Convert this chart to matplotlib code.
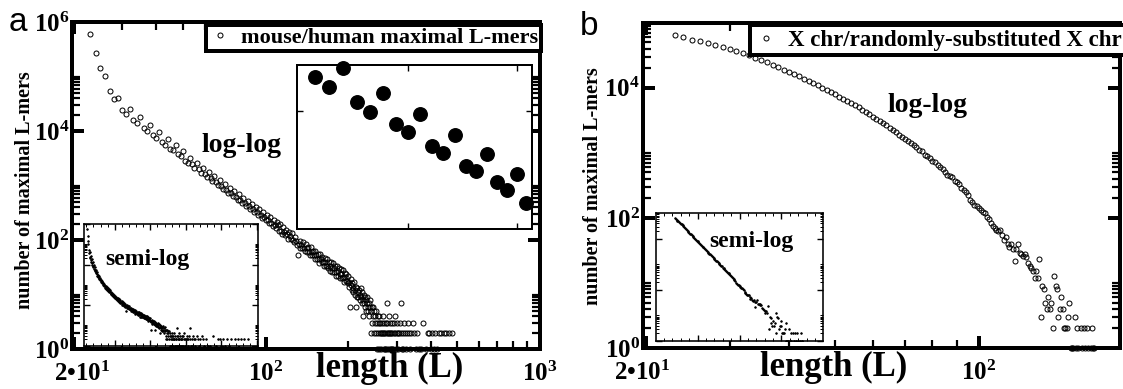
import matplotlib
matplotlib.use('Agg')
import matplotlib.pyplot as plt
from matplotlib.ticker import FixedLocator, FixedFormatter, NullFormatter, NullLocator
from matplotlib.transforms import ScaledTranslation
from matplotlib.lines import Line2D

plt.rcParams['font.family'] = ['Liberation Serif', 'DejaVu Serif']
plt.rcParams['font.weight'] = 'bold'
plt.rcParams['mathtext.fontset'] = 'custom'
plt.rcParams['mathtext.rm'] = 'Liberation Serif:bold'
plt.rcParams['mathtext.bf'] = 'Liberation Serif:bold'
plt.rcParams['mathtext.it'] = 'Liberation Serif:bold'

# ---------------- data: panel a (mouse/human maximal L-mers) ----------------
L_a_start = 23
counts_a = [590000, 265000, 145000, 102000, 54000, 39000, 41000, 24500, 20400, 25000,   # 23-32
            15850, 13840, 17760, 11290, 9870, 12760, 8360, 7470, 9570, 6220,           # 33-42
            5610, 7200, 4740, 4410, 5540, 3820, 3420, 4250, 2850,                      # 43-51
            2570, 3160, 2440, 2090, 2570, 2000, 1710, 2120, 1660,                      # 52-60
            1420, 1760, 1380, 1190, 1480, 1160, 1005, 1250, 986, 853,                  # 61-70
            1070, 843, 731, 916, 724, 630, 790, 627, 545, 687,                         # 71-80
            546, 475, 600, 476, 416, 526, 419, 366, 463, 369,                          # 81-90
            324, 409, 327, 286, 363, 290, 255, 324, 259, 228,                          # 91-100
            290, 232, 204, 260, 208, 184, 234, 188, 166, 212,                          # 101-110
            191, 144, 196, 148, 128, 175, 141, 122, 152, 127,                          # 111-120
            103, 141, 116, 103, 132, 102, 90, 115, 97, 81,                             # 121-130
            52, 86, 71, 95, 82, 71, 90, 71, 63, 85,                                    # 131-140
            70, 60, 75, 61, 53, 74, 60, 52, 64, 53,                                    # 141-150
            45, 63, 52, 44, 56, 45, 38, 55, 45, 39,                                    # 151-160
            49, 40, 34, 47, 39, 33, 45, 34, 31, 40,                                    # 161-170
            34, 27, 39, 31, 26, 38, 30, 26, 33, 26,                                    # 171-180
            22, 33, 27, 22, 30, 24, 20, 29, 24, 20,                                    # 181-190
            28, 21, 17, 25, 21, 18, 24, 18, 16, 22]                                    # 191-200
L_a_tail = [201, 202, 203, 204, 205, 206, 207, 208, 209, 210,
            211, 212, 213, 214, 215, 216, 217, 218, 219, 220,
            221, 222, 223, 224, 225, 226, 227, 228, 229, 230,
            231, 232, 233, 234, 235, 236, 237, 238, 239, 240,
            241, 242, 243, 244, 245, 246, 247, 248, 249, 250,
            251, 252, 253, 254, 255, 256, 257, 258, 259, 260,
            261, 262, 263, 264, 265, 266, 267, 268, 269, 270,
            271, 272, 273, 274, 275, 276, 277, 278, 279, 280,
            281, 282, 283, 284, 285, 286, 287, 288, 289, 290,
            292, 293, 294, 296, 297, 298, 300, 302, 303, 305,
            307, 309, 311, 312, 314, 316, 318, 320, 322, 325,
            327, 330, 333, 336, 340, 345, 348, 352, 356, 362,
            368, 376, 385, 391, 395, 400, 404, 410, 415, 420,
            428, 437, 446, 455, 465, 476]
N_a_tail = [17, 14, 6, 19, 15, 12, 16, 13, 11, 17,
            12, 10, 14, 6, 9, 13, 11, 9, 12, 10,
            8, 13, 9, 7, 11, 8, 4, 10, 7, 9,
            6, 8, 5, 7, 9, 6, 5, 7, 4, 6,
            8, 5, 2, 6, 3, 4, 6, 2, 5, 3,
            4, 2, 5, 1, 3, 4, 2, 3, 1, 4,
            2, 3, 2, 1, 3, 2, 4, 2, 1, 3,
            2, 1, 2, 3, 1, 7, 2, 3, 1, 2,
            4, 2, 1, 3, 2, 1, 2, 3, 1, 2,
            1, 3, 2, 4, 2, 1, 2, 3, 2, 1,
            2, 3, 7, 2, 1, 2, 1, 3, 2, 1,
            2, 3, 2, 1, 2, 3, 2, 1, 2, 1,
            1, 3, 1, 2, 2, 1, 2, 1, 2, 1,
            2, 2, 2, 2, 2, 2]
# enlarged window (inset, log-log) shows L = 33..51 of the same series
inset_L_first, inset_L_last = 33, 51

# ---------------- data: panel b (X chr / randomly-substituted X chr) --------
L_b_start = 23
counts_b = [64600, 59600, 55000, 51500, 48300, 45300, 42500, 39800, 36800, 34000,   # 23-32
            31500, 29100, 26900, 24700, 22600, 20700, 19000, 17400, 16100, 14900,   # 33-42
            13700, 12700, 11700, 10900, 10000, 9300, 8600, 7900, 7300, 6800,        # 43-52
            6300, 5800, 5400, 5000, 4600, 4250, 3950, 3600, 3350, 3100,             # 53-62
            2870, 2650, 2450, 2260, 2080, 1910, 1760, 1620, 1510, 1400,             # 63-72
            1300, 1210, 1120, 1060, 940, 890, 830, 745, 710, 640,                   # 73-82
            610, 572, 505, 462, 445, 420, 370, 350, 330, 290,                       # 83-92
            265, 249, 225]                                                          # 93-95
L_b_tail = [96, 97, 98, 99, 100, 101, 102, 103, 104, 105,
            106, 107, 108, 109, 110, 111, 112, 113, 114, 115,
            116, 117, 118, 119, 120, 121, 122, 123, 124, 125,
            126, 127, 128, 129, 130, 131, 132, 133, 134, 135,
            136, 137, 138, 139, 140, 141, 142, 143, 144, 145,
            146, 147, 148, 149, 150, 151, 152, 153, 154, 155,
            156, 157, 158, 159, 160, 161, 162, 164, 165, 166,
            167, 169, 170, 172, 173, 174, 175]
N_b_tail = [190, 175, 160, 152, 140, 133, 122, 118, 105, 96,
            83, 76, 70, 66, 62, 64, 55, 46, 50, 39,
            36, 40, 33, 22, 33, 40, 29, 28, 26, 28,
            25, 20, 18, 17, 15, 12, 15, 12, 23, 3,
            9, 8, 5, 4, 6, 4, 5, 2, 13, 9,
            8, 3, 4, 6, 4, 2, 2, 2, 3, 5,
            1, 1, 1, 3, 1, 2, 1, 2, 1, 2,
            1, 2, 1, 1, 2, 1, 1]

legend_a = 'mouse/human maximal L-mers'
legend_b = 'X chr/randomly-substituted X chr'
ylabel = 'number of maximal L-mers'
xlabel = 'length (L)'
ytick_vals_a = [1, 1e2, 1e4, 1e6]
ytick_labs_a = [r'$\mathbf{10^{0}}$', r'$\mathbf{10^{2}}$', r'$\mathbf{10^{4}}$', r'$\mathbf{10^{6}}$']
ytick_vals_b = [1, 1e2, 1e4]
ytick_labs_b = [r'$\mathbf{10^{0}}$', r'$\mathbf{10^{2}}$', r'$\mathbf{10^{4}}$']
xtick_vals_a = [20, 100, 1000]
xtick_labs_a = [r'$\mathbf{2•10^{1}}$', r'$\mathbf{10^{2}}$', r'$\mathbf{10^{3}}$']
xtick_vals_b = [20, 100]
xtick_labs_b = [r'$\mathbf{2•10^{1}}$', r'$\mathbf{10^{2}}$']

# assemble series
L_a = list(range(L_a_start, L_a_start + len(counts_a))) + L_a_tail
N_a = counts_a + N_a_tail
L_b = list(range(L_b_start, L_b_start + len(counts_b))) + L_b_tail
N_b = counts_b + N_b_tail
i0 = inset_L_first - L_a_start
i1 = inset_L_last - L_a_start + 1
L_zoom = L_a[i0:i1]
N_zoom = N_a[i0:i1]

# ---------------- figure ----------------
W, H, DPI = 1123, 389, 100
fig = plt.figure(figsize=(W / DPI, H / DPI), dpi=DPI)
PX = 72.0 / DPI  # points per pixel


def rect(x0, y0, x1, y1):
    return [x0 / W, 1 - y1 / H, (x1 - x0) / W, (y1 - y0) / H]


def minor_log(decades):
    out = []
    for d in decades:
        for k in range(2, 11):
            out.append(k * 10.0 ** d)
    return out


def px_text(ax, x, y, s, **kw):
    # place text at pixel position measured from the top-left corner
    return ax.text(x / W, 1 - y / H, s, transform=fig.transFigure, **kw)


def style_main(ax):
    for s in ax.spines.values():
        s.set_linewidth(4 * PX)
    ax.tick_params(which='both', direction='in', top=True, right=True,
                   labeltop=False, labelright=False)
    ax.tick_params(which='major', length=12 * PX, width=4 * PX, labelsize=18)
    ax.tick_params(which='minor', length=8 * PX, width=2.2 * PX)
    ax.tick_params(axis='x', which='major', pad=9)
    ax.tick_params(axis='y', which='major', pad=2)


def style_inset(ax, lw=1.6):
    for s in ax.spines.values():
        s.set_linewidth(lw * PX)
    ax.tick_params(which='both', direction='in', top=True, right=True,
                   labelbottom=False, labelleft=False)
    ax.tick_params(which='major', length=6 * PX, width=1.4 * PX)
    ax.tick_params(which='minor', length=3 * PX, width=1.0 * PX)


# ---- panel a main ----
ax_a = fig.add_axes(rect(72, 22, 540, 349))
ax_a.set_xscale('log')
ax_a.set_yscale('log')
ax_a.plot(L_a, N_a, linestyle='none', marker='o', markersize=5 * PX,
          markerfacecolor='none', markeredgecolor='black', markeredgewidth=1.0 * PX,
          clip_on=False, zorder=1)
ax_a.set_xlim(19.7, 1000)
ax_a.set_ylim(1, 1e6)
ax_a.xaxis.set_major_locator(FixedLocator(xtick_vals_a))
ax_a.xaxis.set_major_formatter(FixedFormatter(xtick_labs_a))
ax_a.xaxis.set_minor_locator(FixedLocator([30, 40, 50, 60, 70, 80, 90,
                                           200, 300, 400, 500, 600, 700, 800, 900]))
ax_a.xaxis.set_minor_formatter(NullFormatter())
ax_a.yaxis.set_major_locator(FixedLocator(ytick_vals_a))
ax_a.yaxis.set_major_formatter(FixedFormatter(ytick_labs_a))
ax_a.yaxis.set_minor_locator(FixedLocator(minor_log([0, 2, 4])))
ax_a.yaxis.set_minor_formatter(NullFormatter())
style_main(ax_a)
lab = ax_a.get_xticklabels()[0]
lab.set_transform(lab.get_transform() + ScaledTranslation(8 / DPI, 0, fig.dpi_scale_trans))

h_a = Line2D([], [], linestyle='none', marker='o', markersize=5 * PX,
             markerfacecolor='none', markeredgecolor='black', markeredgewidth=1.0 * PX)
leg_a = ax_a.legend([h_a], [legend_a], loc='upper left',
                    bbox_to_anchor=(206 / W, 1 - 25 / H), bbox_transform=fig.transFigure,
                    borderaxespad=0, borderpad=0.12, handlelength=1.0, handletextpad=0.45,
                    fancybox=False, framealpha=1, edgecolor='black',
                    prop={'family': 'Liberation Serif', 'weight': 'bold', 'size': 16})
leg_a.get_frame().set_linewidth(4 * PX)
px_text(ax_a, 242, 145, 'log-log', fontsize=20, ha='center', va='center')

# ---- panel a inset: enlarged log-log window ----
ax_z = fig.add_axes(rect(296.7, 65, 532.1, 229.3))
ax_z.set_xscale('log')
ax_z.set_yscale('log')
ax_z.plot(L_zoom, N_zoom, linestyle='none', marker='o', markersize=13.5 * PX,
          markerfacecolor='black', markeredgecolor='black', clip_on=False)
ax_z.set_xlim(31.8, 51.6)
ax_z.set_ylim(2005, 18580)
ax_z.xaxis.set_major_locator(FixedLocator([40, 50]))
ax_z.xaxis.set_minor_locator(NullLocator())
ax_z.yaxis.set_major_locator(FixedLocator([1e4]))
ax_z.yaxis.set_minor_locator(NullLocator())
style_inset(ax_z, lw=2.0)

# ---- panel a inset: semi-log ----
ax_sa = fig.add_axes(rect(83.5, 224, 258, 345.5))
ax_sa.set_yscale('log')
ax_sa.plot(L_a, N_a, linestyle='none', marker='o', markersize=1.6 * PX,
           markerfacecolor='black', markeredgecolor='black', markeredgewidth=0.6)
ax_sa.set_xlim(12, 503)
ax_sa.set_ylim(1, 1e6)
ax_sa.xaxis.set_major_locator(FixedLocator([100, 200, 300, 400, 500]))
ax_sa.xaxis.set_minor_locator(FixedLocator(list(range(20, 501, 20))))
ax_sa.yaxis.set_major_locator(FixedLocator(ytick_vals_a))
ax_sa.yaxis.set_minor_locator(FixedLocator(minor_log([0, 2, 4])))
ax_sa.yaxis.set_minor_formatter(NullFormatter())
ax_sa.xaxis.set_minor_formatter(NullFormatter())
style_inset(ax_sa)
px_text(ax_sa, 147.5, 260, 'semi-log', fontsize=17, ha='center', va='center')

# ---- panel b main ----
ax_b = fig.add_axes(rect(642.5, 22.7, 1120, 348))
ax_b.set_xscale('log')
ax_b.set_yscale('log')
ax_b.plot(L_b, N_b, linestyle='none', marker='o', markersize=5 * PX,
          markerfacecolor='none', markeredgecolor='black', markeredgewidth=1.0 * PX,
          clip_on=False, zorder=1)
ax_b.set_xlim(19.7, 198)
ax_b.set_ylim(1, 1e5)
ax_b.xaxis.set_major_locator(FixedLocator(xtick_vals_b))
ax_b.xaxis.set_major_formatter(FixedFormatter(xtick_labs_b))
ax_b.xaxis.set_minor_locator(FixedLocator([30, 40, 50, 60, 70, 80, 90]))
ax_b.xaxis.set_minor_formatter(NullFormatter())
ax_b.yaxis.set_major_locator(FixedLocator(ytick_vals_b))
ax_b.yaxis.set_major_formatter(FixedFormatter(ytick_labs_b))
ax_b.yaxis.set_minor_locator(FixedLocator(minor_log([0, 2, 4])))
ax_b.yaxis.set_minor_formatter(NullFormatter())
style_main(ax_b)
lab = ax_b.get_xticklabels()[0]
lab.set_transform(lab.get_transform() + ScaledTranslation(-3 / DPI, 0, fig.dpi_scale_trans))

leg_b = ax_b.legend([h_a], [legend_b], loc='upper left',
                    bbox_to_anchor=(750 / W, 1 - 25 / H), bbox_transform=fig.transFigure,
                    borderaxespad=0, borderpad=0.2, handlelength=1.0, handletextpad=0.45,
                    fancybox=False, framealpha=1, edgecolor='black',
                    prop={'family': 'Liberation Serif', 'weight': 'bold', 'size': 16.5})
leg_b.get_frame().set_linewidth(4 * PX)
px_text(ax_b, 927, 105, 'log-log', fontsize=20, ha='center', va='center')

# ---- panel b inset: semi-log ----
ax_sb = fig.add_axes(rect(655.7, 213.3, 823.3, 341))
ax_sb.set_yscale('log')
ax_sb.plot(L_b, N_b, linestyle='none', marker='o', markersize=1.6 * PX,
           markerfacecolor='black', markeredgecolor='black', markeredgewidth=0.6)
ax_sb.set_xlim(0, 200)
ax_sb.set_ylim(1, 1e5)
ax_sb.xaxis.set_major_locator(FixedLocator([50, 100, 150]))
ax_sb.xaxis.set_minor_locator(FixedLocator(list(range(10, 200, 10))))
ax_sb.yaxis.set_major_locator(FixedLocator(ytick_vals_b))
ax_sb.yaxis.set_minor_locator(FixedLocator(minor_log([0, 2, 4])))
ax_sb.yaxis.set_minor_formatter(NullFormatter())
ax_sb.xaxis.set_minor_formatter(NullFormatter())
style_inset(ax_sb)
px_text(ax_sb, 751, 241, 'semi-log', fontsize=17, ha='center', va='center')

# ---- axis titles and panel letters ----
fig.text(25.5 / W, 1 - 190 / H, ylabel, rotation=90, ha='center', va='center', fontsize=14.5)
fig.text(593.5 / W, 1 - 186 / H, ylabel, rotation=90, ha='center', va='center', fontsize=14.5)
fig.text(390 / W, 1 - 368 / H, xlabel, ha='center', va='center', fontsize=25)
fig.text(833.5 / W, 1 - 367 / H, xlabel, ha='center', va='center', fontsize=25)
fig.text(9 / W, 1 - 31 / H, 'a', ha='left', va='baseline', fontsize=24,
         family='Liberation Sans', weight='normal')
fig.text(580 / W, 1 - 35 / H, 'b', ha='left', va='baseline', fontsize=24,
         family='Liberation Sans', weight='normal')

fig.savefig('out.png', dpi=DPI, facecolor='white')
